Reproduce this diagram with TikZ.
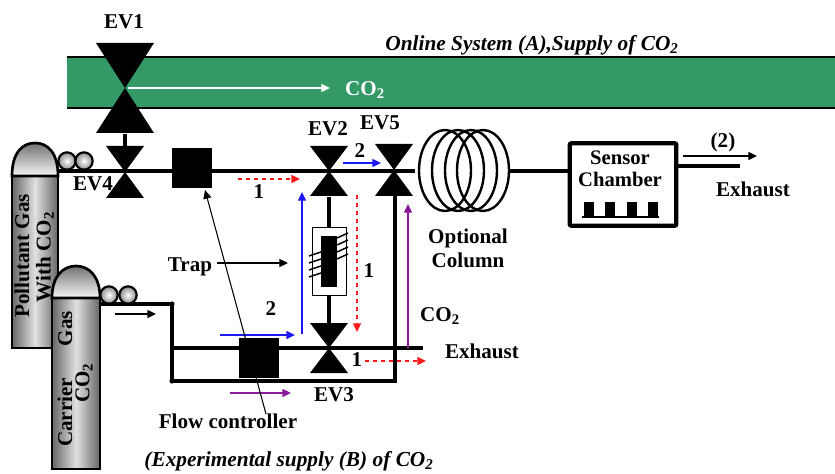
\documentclass[tikz,border=0pt]{standalone}
\usepackage{fontspec}
\setmainfont{Liberation Serif}
\usepackage{xcolor}
\usetikzlibrary{arrows.meta}

\definecolor{bandgreen}{HTML}{339966}
\definecolor{flowred}{HTML}{FF1A1A}
\definecolor{flowblue}{HTML}{1A1AF0}
\definecolor{flowpurple}{HTML}{8A1A9A}

\tikzset{
    lbl/.style={font=\fontsize{15.8}{18}\selectfont\bfseries, inner sep=0pt},
    ttl/.style={font=\fontsize{16}{18}\selectfont\bfseries\itshape, inner sep=0pt},
    pipe/.style={draw, line width=2.6pt},
    block/.style={fill=black, minimum width=29.5pt, minimum height=29.5pt, inner sep=0pt},
    flow/.style={line width=1pt, -{Triangle[length=6.5pt,width=6pt]}},
    tank/.style={draw, line width=2pt, left color=black!60, right color=black!60, middle color=black!12},
    dome/.style={draw, line width=2pt, top color=black!55, bottom color=black!3},
    bead/.style={circle, draw, line width=1.6pt, inner color=white, outer color=black!45, minimum size=13pt, inner sep=0pt}
}

% valve: name, x, y, half width, half height
\newcommand{\valve}[5]{
    \coordinate (#1) at (#2,#3);
    \fill (#2-#4,#3-#5) -- (#2+#4,#3-#5) -- (#2,#3) -- cycle;
    \fill (#2-#4,#3+#5) -- (#2+#4,#3+#5) -- (#2,#3) -- cycle;
}

\begin{document}
\begin{tikzpicture}[x=0.75pt,y=-0.75pt]
\useasboundingbox (0,0) rectangle (835,474);

% supply band
\fill[bandgreen] (67,57) rectangle (835,108);
\draw[line width=1.2pt] (67,57) -- (835,57);
\draw[line width=1.2pt] (67,108) -- (835,108);
\node[ttl] (online) at (532,45) {Online System (A),Supply of CO\textsubscript{2}};

% free ends
\foreach \nm/\x/\y in {co2a/128/88, co2b/330/88, inletl/100/304, inletj/172/304, lowl/172/348, lowr/423/348,
    botl/172/381, botr/395/381, mainl/59/171, exhl/678/166, exhr/740/166, exupa/683/156, exupb/757/156,
    inflowa/115/314, inflowb/156/314,
    ra/238/179, rb/300/179, rc/357/195, rd/357/332, re/365/361, rf/426/361,
    ba/220/335, bb/295/335, bc/302/334, bd/302/192, be/343/163, bf/381/163,
    pa/230/393, pb/291/393, pc/408/348, pd/408/204, trapa/217/263, trapb/288/263, flowa/266/414, flowb/205/190}
    \coordinate (\nm) at (\x,\y);

% pipes
\draw[pipe] (mainl) -- (415,171);
\draw[pipe] (inletl) -- (inletj) -- (botl) -- (botr) -- (395,194);
\draw[pipe] (lowl) -- (lowr);
\fill (inletj) circle (2.6);
\fill (botl) circle (2.6);
\draw[pipe] (125,134) -- (125,150);
\draw[pipe] (329,197) -- (329,227);
\draw[pipe] (329,296) -- (329,323);
\draw[pipe] (509,171) -- (568,171);
\draw[pipe] (exhl) -- (exhr);

% valves
\valve{evone}{125}{88}{29}{45}
\valve{evfour}{125}{172}{19}{26}
\valve{evtwo}{329}{171}{19}{25}
\valve{evfive}{394}{170}{19}{26}
\valve{evthree}{329}{348}{19}{25}

\node[lbl] (evonel) at (124,22) {EV1};
\node[lbl] (evfourl) at (93,184) {EV4};
\node[lbl] (evtwol) at (328,129) {EV2};
\node[lbl] (evfivel) at (380,123) {EV5};
\node[lbl] (evthreel) at (334,395) {EV3};

% flow controllers
\node[block] (fctop) at (192,168) {};
\node[block] (fclow) at (259,358) {};
\node[lbl] (fclbl) at (228,421) {Flow controller};

% trap
\node[draw, line width=0.9pt, fill=white, minimum width=26pt, minimum height=51pt, inner sep=0pt] (trapbox) at (329.5,261.5) {};
\node[fill=black, minimum width=12pt, minimum height=38pt, inner sep=0pt] (trapcore) at (329,261.5) {};
\foreach \y in {0,7,14,21} {
    \draw[line width=1.1pt] (309,256+\y) -- (321,252+\y);
    \draw[line width=1.1pt] (337,238+\y) -- (348,233+\y);
}
\node[lbl] (traplbl) at (190,267) {Trap};

% column
\foreach \cx in {445,458,471,483}
    \draw[line width=1.8pt] (\cx,170.5) ellipse (26 and 40.5);
\node[lbl, align=center, font=\fontsize{15.8}{18}\selectfont\bfseries] (collbl) at (468,248) {Optional\\Column};

% sensor
\node[draw, line width=3.2pt, rounded corners=1.5pt, minimum width=80pt, minimum height=62pt, inner sep=0pt] (sensor) at (623,184.5) {};
\node[lbl, align=center, font=\fontsize{15.5}{16.5}\selectfont\bfseries] (sensorlbl) at (620,169) {Sensor\\Chamber};
\foreach \x in {584,605,627,648}
    \fill (\x,202) rectangle (\x+10,217);
\draw[line width=1.2pt] (582,217) -- (659,217);
\node[lbl] (exhone) at (753,189) {Exhaust};
\node[lbl] (exhtwo) at (723,142) {(2)};
\node[lbl] (exhlow) at (482,351) {Exhaust};

% cylinders
\draw[tank] (12,176) rectangle (58,348);
\draw[dome] (12,176) .. controls (12,153) and (22,143) .. (35,143) .. controls (48,143) and (58,153) .. (58,176) -- cycle;
\node[bead] (pba) at (67,161) {};
\node[bead] (pbb) at (84,161) {};
\node[lbl, rotate=90] (pollutant) at (22,256) {Pollutant Gas};
\node[lbl, rotate=90] (withco) at (45,257) {With CO\textsubscript{2}};

\draw[tank] (52,298) rectangle (100,469);
\draw[dome] (52,298) .. controls (52,276) and (63,266) .. (76,266) .. controls (89,266) and (100,276) .. (100,298) -- cycle;
\node[bead] (cba) at (109,295) {};
\node[bead] (cbb) at (128,295) {};
\node[lbl, rotate=90] (carrier) at (65,379) {Carrier\hspace{1.5em}Gas};
\node[lbl, rotate=90] (carco) at (84,383) {CO\textsubscript{2}};

% flows
\draw[flow, draw=white, -{Triangle[length=6.5pt,width=6pt]}] (co2a) -- (co2b);
\node[lbl, text=white] (co2lbl) at (365,90) {CO\textsubscript{2}};
\draw[flow, draw=black] (inflowa) -- (inflowb);
\draw[flow, draw=black] (exupa) -- (exupb);
\draw[flow, draw=flowred, dashed] (ra) -- (rb);
\draw[flow, draw=flowred, dashed] (rc) -- (rd);
\draw[flow, draw=flowred, dashed] (re) -- (rf);
\draw[flow, draw=flowblue] (ba) -- (bb);
\draw[flow, draw=flowblue] (bc) -- (bd);
\draw[flow, draw=flowblue] (be) -- (bf);
\draw[flow, draw=flowpurple] (pa) -- (pb);
\draw[flow, draw=flowpurple] (pc) -- (pd);
\draw[flow, draw=black, line width=0.8pt] (trapa) -- (trapb);
\draw[flow, draw=black, line width=0.8pt] (flowa) -- (flowb);

\node[lbl] (ra1) at (259,192) {1};
\node[lbl] (rc1) at (369,271) {1};
\node[lbl] (re1) at (357,360) {1};
\node[lbl] (ba2) at (271,309) {2};
\node[lbl] (be2) at (360,151) {2};
\node[lbl] (pco) at (440,316) {CO\textsubscript{2}};

\node[ttl] (exper) at (289,461) {(Experimental supply (B) of CO\textsubscript{2}};
\end{tikzpicture}
\end{document}
